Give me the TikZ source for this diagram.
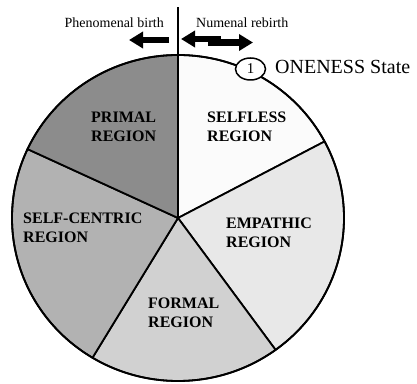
\documentclass[tikz,border=0pt]{standalone}
\usepackage{fontspec}
\setmainfont{Liberation Serif}
\usetikzlibrary{arrows.meta,shapes.geometric,calc}
\definecolor{cSelfless}{gray}{0.985}
\definecolor{cEmpathic}{gray}{0.91}
\definecolor{cFormal}{gray}{0.82}
\definecolor{cCentric}{gray}{0.70}
\definecolor{cPrimal}{gray}{0.55}
\tikzset{
  region/.style={anchor=west,align=left,inner sep=0pt,font=\fontsize{16}{19}\selectfont\bfseries},
  toplabel/.style={inner sep=0pt,font=\fontsize{14}{16}\selectfont},
  bigarrow/.style={line width=6.5pt,-{Triangle[length=14pt,width=16pt]}},
  sector/.style={draw=black,line width=1.8pt,line join=round},
}
\newcommand{\sect}[3]{%
  \filldraw[sector,fill=#3] (C) -- ($(C)+(#1:166 and 163)$) arc[start angle=#1,end angle=#2,x radius=166,y radius=163] -- cycle;}
\begin{document}
\begin{tikzpicture}[x=1pt,y=1pt]
\useasboundingbox (0,0) rectangle (417,383);
\coordinate (C) at (178,165);
\sect{28}{90}{cSelfless}
\sect{-54}{28}{cEmpathic}
\sect{-121}{-54}{cFormal}
\sect{155}{239}{cCentric}
\sect{90}{155}{cPrimal}
\draw[line width=1.8pt] (C) ellipse[x radius=166,y radius=163];
\coordinate (top) at (178,328);
\coordinate (topend) at (178,376);
\draw[line width=1.1pt] (top) -- (topend);
% labels
\node[region] (primal) at (91,256.5) {PRIMAL\\REGION};
\node[region] (selfless) at (207,256.5) {SELFLESS\\REGION};
\node[region] (centric) at (23,155.5) {SELF-CENTRIC\\REGION};
\node[region] (empathic) at (226,150.5) {EMPATHIC\\REGION};
\node[region] (formal) at (148,70.5) {FORMAL\\REGION};
% top labels
\node[toplabel,anchor=base east] (phen) at (164,355) {Phenomenal birth};
\node[toplabel,anchor=base west] (numen) at (196,355) {Numenal rebirth};
% arrows
\coordinate (la1) at (169,343);
\coordinate (la2) at (129,343);
\draw[bigarrow] (la1) -- (la2);
\coordinate (ra1) at (221,344);
\coordinate (ra2) at (181,344);
\draw[bigarrow] (ra1) -- (ra2);
\coordinate (rb1) at (208,340.5);
\coordinate (rb2) at (253,340.5);
\draw[bigarrow] (rb1) -- (rb2);
% oneness marker
\node[ellipse,draw,line width=1.5pt,fill=white,minimum width=30pt,minimum height=22pt,inner sep=0pt,font=\fontsize{15}{17}\selectfont] (one) at (250.5,314) {1};
\node[anchor=west,inner sep=0pt,font=\fontsize{20}{22}\selectfont] (oneness) at (275,316.5) {ONENESS State};
\end{tikzpicture}
\end{document}
